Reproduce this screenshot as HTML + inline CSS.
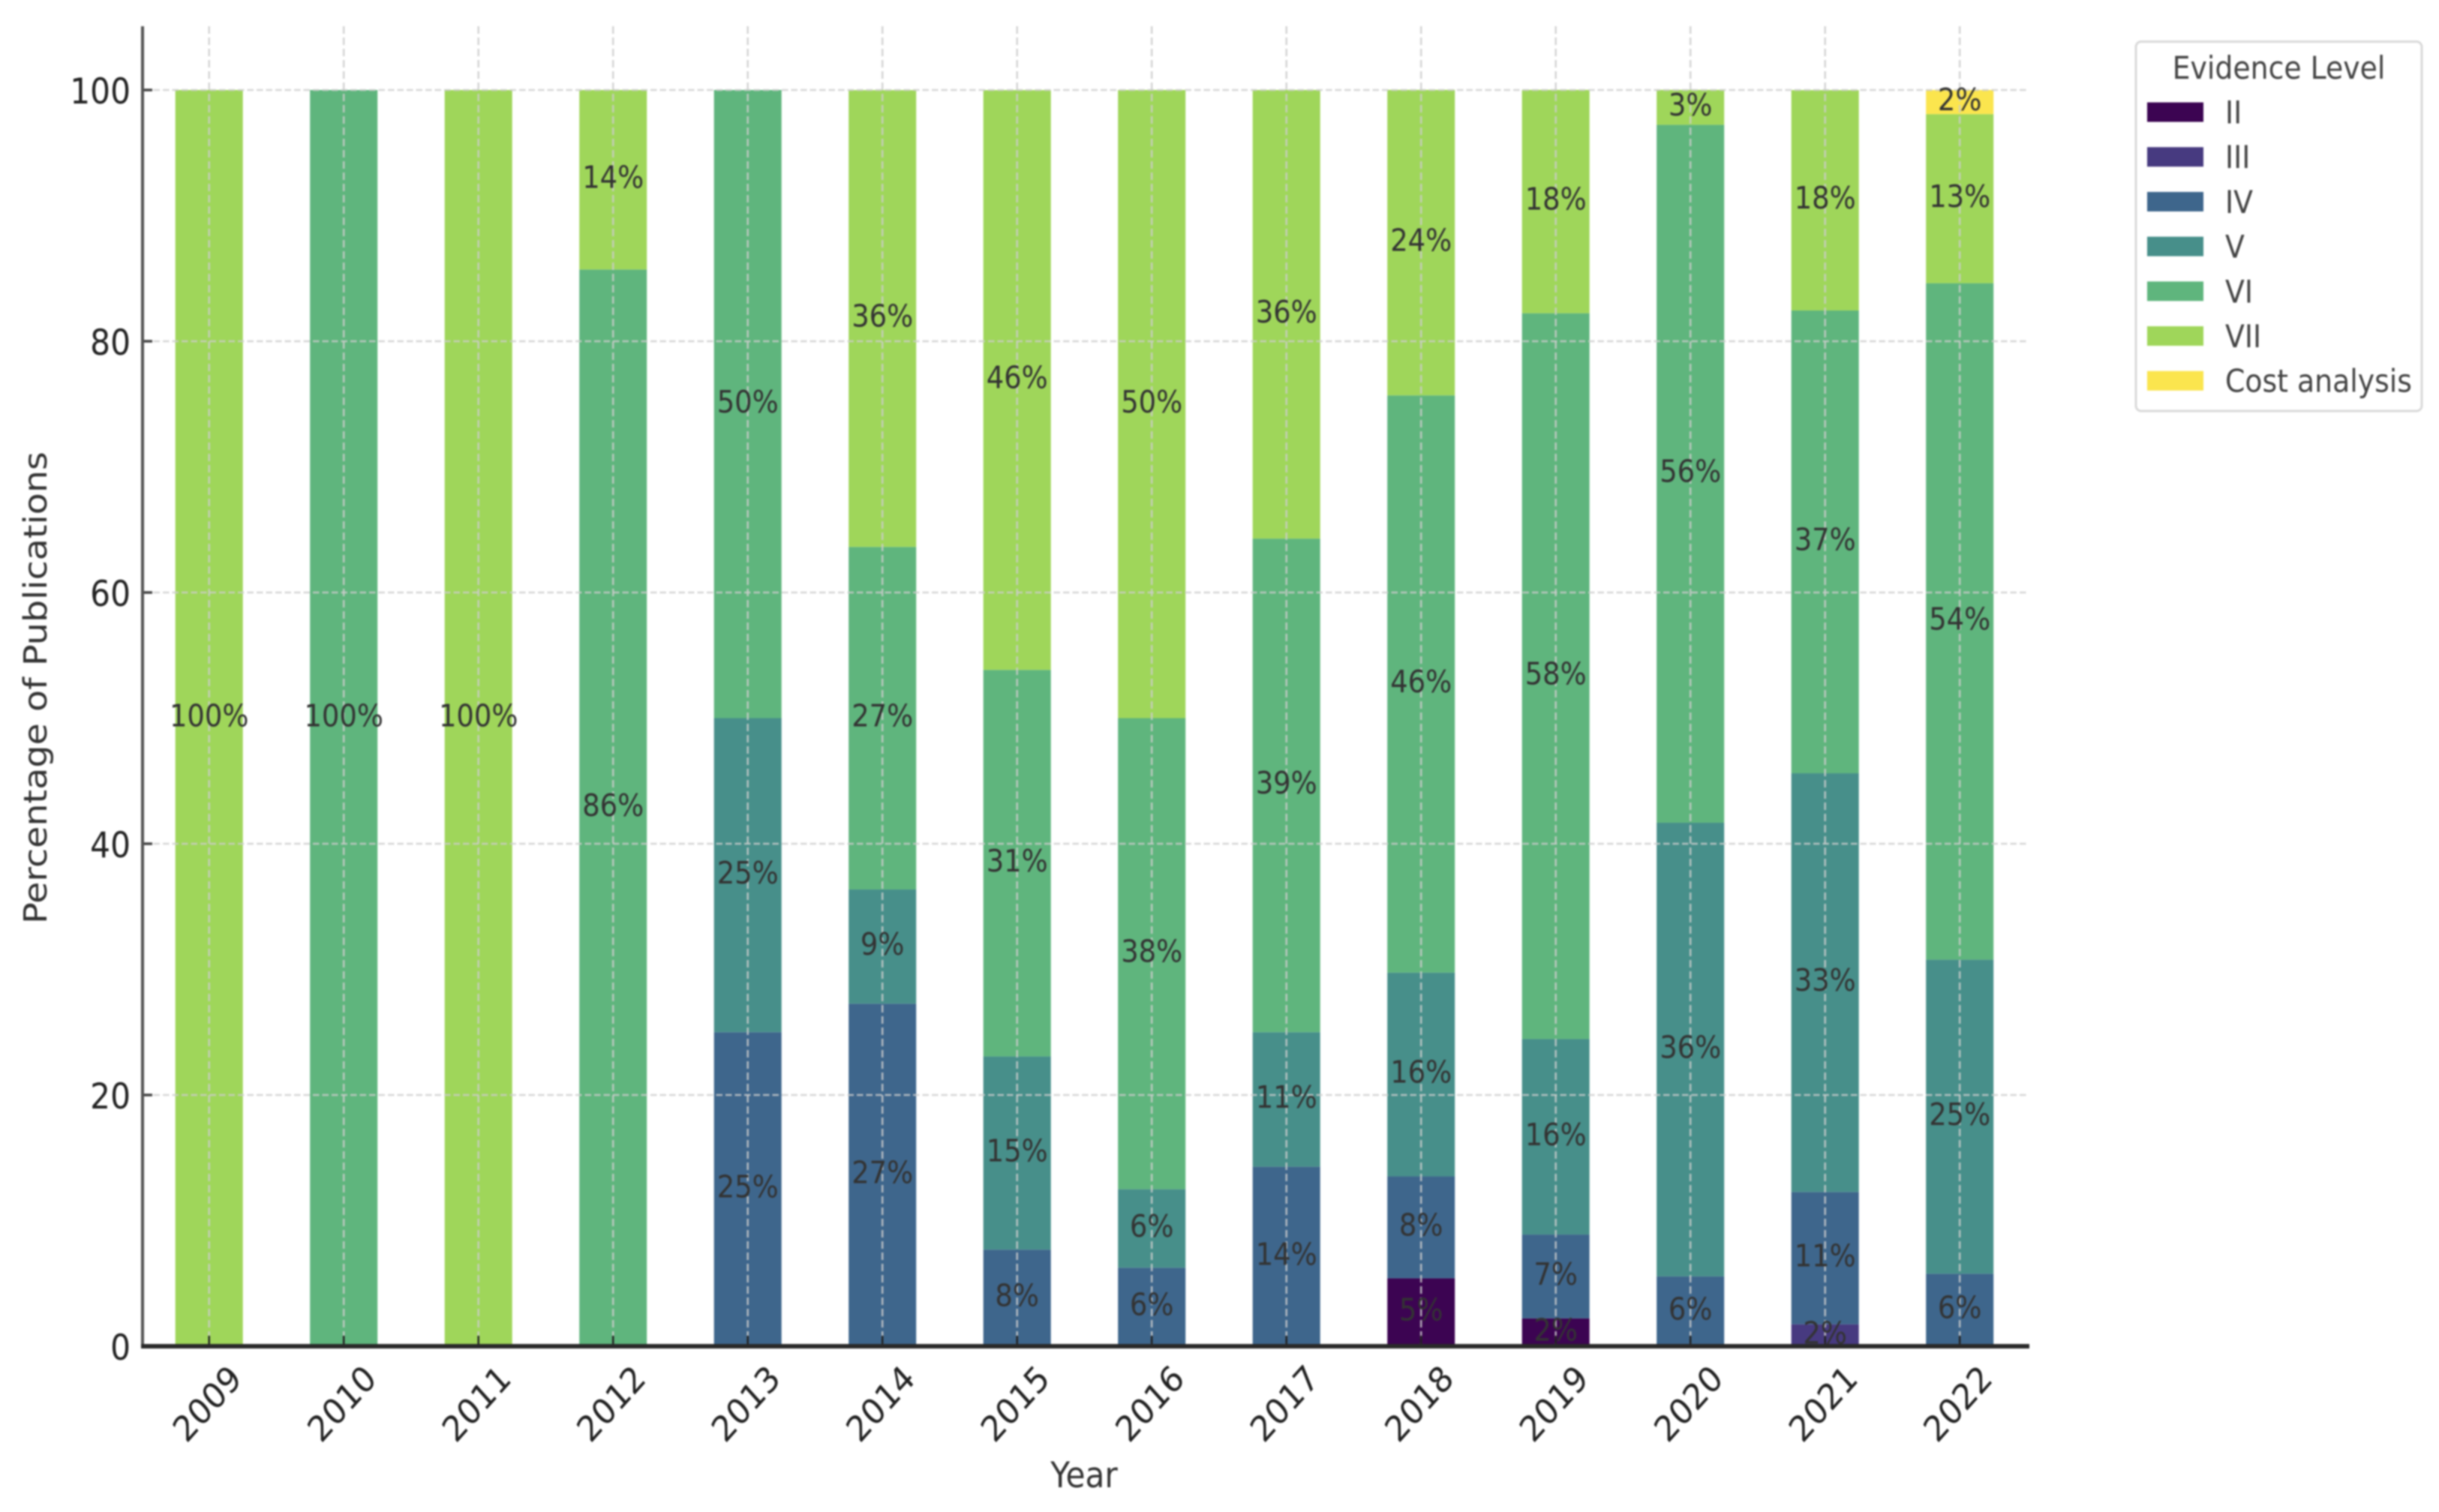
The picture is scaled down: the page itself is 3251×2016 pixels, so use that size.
<!DOCTYPE html>
<html lang="en">
<head>
<meta charset="utf-8">
<title>Evidence Level by Year</title>
<style>
html,body{margin:0;padding:0;background:#fff;}
svg{display:block;filter:blur(1px);}
text{font-family:"DejaVu Sans","Liberation Sans",sans-serif;}
</style>
</head>
<body>
<svg id="chart" xmlns="http://www.w3.org/2000/svg" width="3251" height="2016" viewBox="0 0 3251 2016">
  <rect x="0" y="0" width="3251" height="2016" fill="#ffffff"/>
  <g id="bars"></g>
  <g id="grid"></g>
  <g id="ticks"></g>
  <line x1="190" y1="35" x2="190" y2="1797" stroke="#555555" stroke-width="4"/>
  <line x1="188" y1="1795" x2="2705" y2="1795" stroke="#2a2a2a" stroke-width="6"/>
  <g id="values"></g>
  <text transform="translate(62,917) scale(0.9,1) rotate(-90)" text-anchor="middle" font-size="47.6" fill="#333333">Percentage of Publications</text>
  <text transform="translate(1445,1983) scale(0.9,1)" text-anchor="middle" font-size="47" fill="#333333">Year</text>
  <g id="legend">
    <rect x="2847" y="55.5" width="381" height="492.5" rx="7" fill="#ffffff" stroke="#d9d9d9" stroke-width="3"/>
    <text transform="translate(3037.5,105) scale(0.9,1)" text-anchor="middle" font-size="42" fill="#444444">Evidence Level</text>
  </g>
</svg>
<script>
const years = ["2009","2010","2011","2012","2013","2014","2015","2016","2017","2018","2019","2020","2021","2022"];
const levels = ["II","III","IV","V","VI","VII","Cost analysis"];
const colors = ["#3c0452","#473a80","#3e668c","#478f8a","#5fb57d","#9fd65a","#fbe54e"];
const yTicks = [0,20,40,60,80,100];
const seriesII = [0,0,0,0,0,0,0,0,0,5.41,2.22,0,0,0];
const seriesIII = [0,0,0,0,0,0,0,0,0,0,0,0,1.75,0];
const seriesIV = [0,0,0,0,25,27.27,7.69,6.25,14.29,8.11,6.67,5.56,10.53,5.77];
const seriesV = [0,0,0,0,25,9.09,15.38,6.25,10.71,16.22,15.56,36.11,33.33,25];
const seriesVI = [0,100,0,85.71,50,27.27,30.77,37.5,39.29,45.95,57.78,55.56,36.84,53.85];
const seriesVII = [100,0,100,14.29,0,36.36,46.15,50,35.71,24.32,17.78,2.78,17.54,13.46];
const seriesCost = [0,0,0,0,0,0,0,0,0,0,0,0,0,1.92];
const allSeries = [seriesII,seriesIII,seriesIV,seriesV,seriesVI,seriesVII,seriesCost];

const NS = "http://www.w3.org/2000/svg";
const X_FIRST = 278.7, X_STEP = 179.5, BAR_W = 90;
const Y_ZERO = 1795, Y_UNIT = 16.75;
const SQUEEZE = 0.9;
function xPos(i){ return X_FIRST + i * X_STEP; }
function yPos(v){ return Y_ZERO - v * Y_UNIT; }
function make(tag, attrs){
  const el = document.createElementNS(NS, tag);
  for (const k in attrs) el.setAttribute(k, attrs[k]);
  return el;
}
const barsG = document.getElementById("bars");
const gridG = document.getElementById("grid");
const ticksG = document.getElementById("ticks");
const valuesG = document.getElementById("values");
const legendG = document.getElementById("legend");

// stacked bars + printed percentages
years.forEach(function(year, i){
  let base = 0;
  allSeries.forEach(function(series, s){
    const v = series[i];
    if (v > 0) {
      const bar = make("rect", {x: xPos(i) - BAR_W/2, y: yPos(base + v), width: BAR_W, height: v * Y_UNIT, fill: colors[s]});
      
      
      barsG.appendChild(bar);
      const label = make("text", {transform: "translate(" + xPos(i) + "," + (yPos(base + v/2) + 11) + ") scale(" + SQUEEZE + ",1)", "text-anchor": "middle", "font-size": 41, fill: "#333333"});
      
      
      label.textContent = Math.round(v) + "%";
      valuesG.appendChild(label);
    }
    base += v;
  });
});

// horizontal grid, y ticks, y tick labels
yTicks.forEach(function(t){
  if (t > 0) {
    const g = make("line", {x1: 192, y1: yPos(t), x2: 2703, y2: yPos(t), stroke: "#cccccc", "stroke-width": 2.6, "stroke-opacity": 0.8, "stroke-dasharray": "8.5 4"});
    
    
    gridG.appendChild(g);
  }
  const tick = make("line", {x1: 190, y1: yPos(t), x2: 203, y2: yPos(t), stroke: "#444444", "stroke-width": 3.5});
  
  
  ticksG.appendChild(tick);
  const lab = make("text", {transform: "translate(174," + (yPos(t) + 18) + ") scale(" + SQUEEZE + ",1)", "text-anchor": "end", "font-size": 47, fill: "#222222"});
  
  
  lab.textContent = String(t);
  ticksG.appendChild(lab);
});

// vertical grid, x ticks, rotated x tick labels
years.forEach(function(year, i){
  const g = make("line", {x1: xPos(i), y1: 35, x2: xPos(i), y2: Y_ZERO, stroke: "#cccccc", "stroke-width": 2.6, "stroke-opacity": 0.8, "stroke-dasharray": "10 5"});
  
  
  gridG.appendChild(g);
  const tick = make("line", {x1: xPos(i), y1: Y_ZERO - 14, x2: xPos(i), y2: Y_ZERO, stroke: "#222222", "stroke-width": 2.5});
  
  
  ticksG.appendChild(tick);
  const lab = make("text", {transform: "translate(" + (xPos(i) - 3) + ",1871) scale(" + SQUEEZE + ",1) rotate(-45)", "text-anchor": "middle", y: 17, "font-size": 47, fill: "#222222"});
  
  
  lab.textContent = year;
  ticksG.appendChild(lab);
});

// legend entries
levels.forEach(function(level, i){
  const cy = 149.5 + i * 59.7;
  const sw = make("rect", {x: 2862, y: cy - 13, width: 75, height: 26, fill: colors[i]});
  
  
  legendG.appendChild(sw);
  const t = make("text", {transform: "translate(2966," + (cy + 15) + ") scale(" + SQUEEZE + ",1)", "font-size": 42, fill: "#444444"});
  
  
  t.textContent = level;
  legendG.appendChild(t);
});
</script>
</body>
</html>
